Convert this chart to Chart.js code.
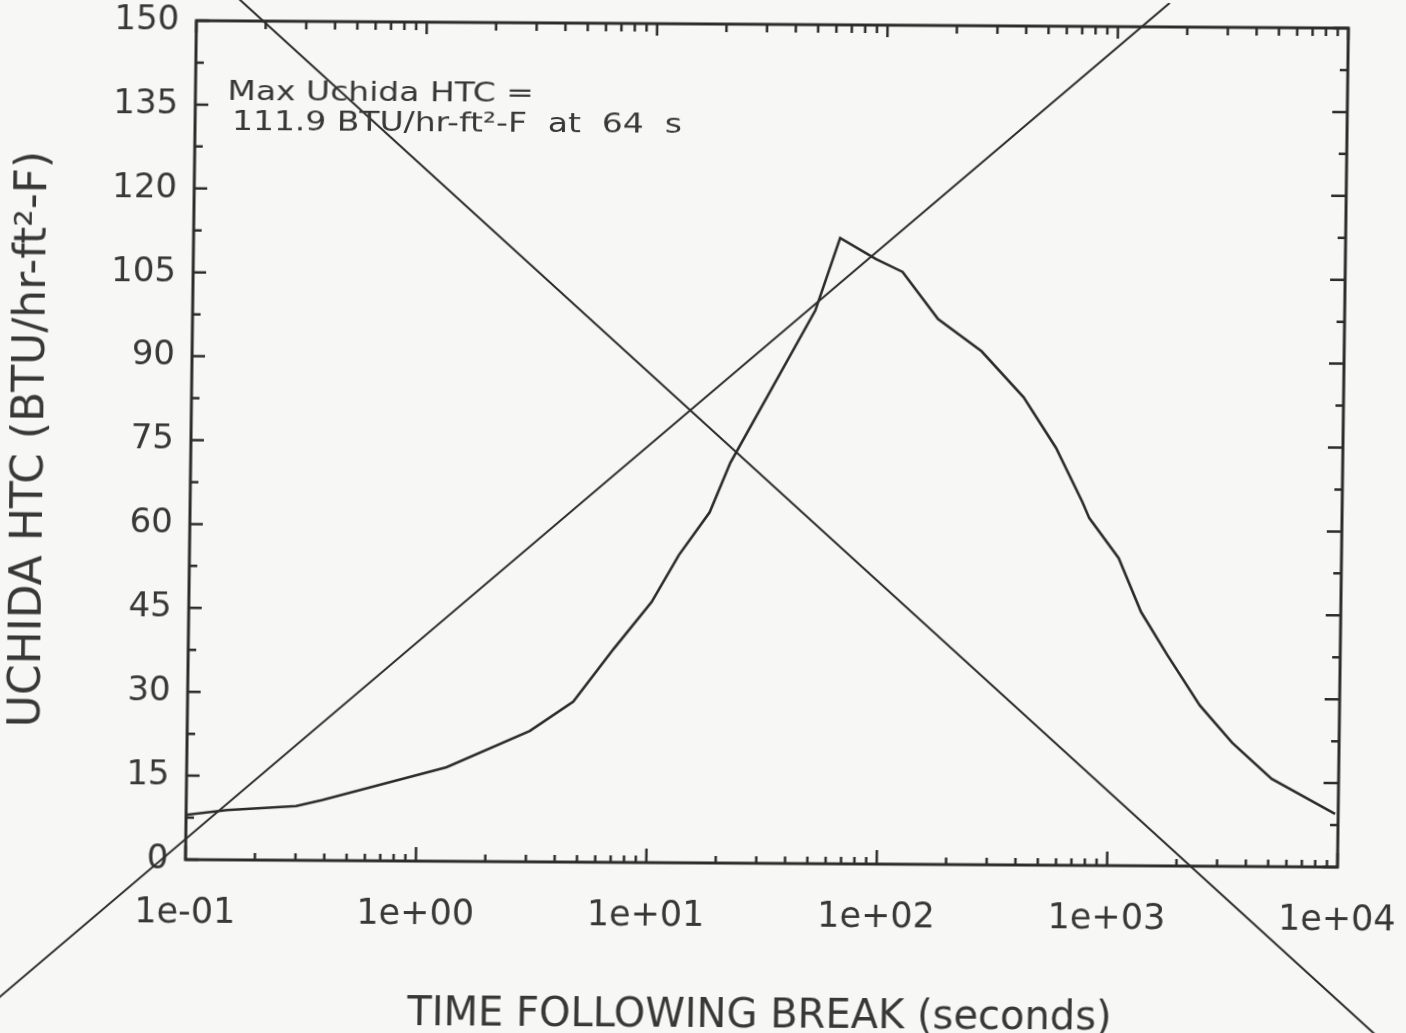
<!DOCTYPE html>
<html lang="en">
<head>
<meta charset="UTF-8" />
<title>Uchida HTC</title>
<script src="https://cdn.jsdelivr.net/npm/chart.js@4.4.0/dist/chart.umd.min.js"></script>
<style>
  html, body { margin: 0; padding: 0; background: #f7f7f5; overflow: hidden; }
  /* the scanned sheet sits a little skewed */
  canvas { display: block; transform: matrix(1, 0.0065, -0.013, 1, 0, 0); }
</style>
</head>
<body>
<canvas id="htc" width="1406" height="1033"></canvas>
<script>
// curve: time after break (s) vs Uchida HTC
const timeSec = [0.1, 0.15, 0.3, 0.39, 0.69, 1.34, 3.07, 4.72, 7.03, 10.2, 13.3, 18.0, 22.0, 50.4, 64,
                 91.6, 120, 172, 267, 409, 569, 745, 800, 1079, 1358, 1778, 2473, 3437, 5119, 9700];
const htc = [8.0, 8.9, 9.7, 10.8, 13.6, 16.8, 23.4, 28.7, 38.2, 46.6, 55.0, 62.7, 71.6, 98.9, 111.9,
             108.2, 105.9, 97.5, 91.8, 83.6, 74.6, 65.0, 62.1, 55.0, 45.4, 37.7, 28.75, 22.1, 15.7, 9.5];

// the two crossing strokes over the sheet (ends in data units)
const crossAX = [0.1492, 15370];
const crossAY = [154.3, -30.4];
const crossBX = [0.01497, 1672];
const crossBY = [-25.7, 154.3];

const xTickValues = [0.1, 1, 10, 100, 1000, 10000];
const xTickLabels = ['1e-01', '1e+00', '1e+01', '1e+02', '1e+03', '1e+04'];
const yMin = 0, yMax = 150, yStep = 15;

const noteLines = ['Max Uchida HTC =', '111.9 BTU/hr-ft\u00b2-F  at  64  s'];
const xTitle = 'TIME FOLLOWING BREAK (seconds)';
const yTitle = 'UCHIDA HTC (BTU/hr-ft\u00b2-F)';

const ink = '#2c2c2c';
const textInk = '#383838';
const face = 'DejaVu Sans';

function pts(xs, ys) { return xs.map((v, i) => ({ x: v, y: ys[i] })); }

// frame with inward ticks, plus the note in the upper left
const frameTicks = {
  id: 'frameTicks',
  afterDatasetsDraw(chart) {
    const { ctx, chartArea: a, scales: { x, y } } = chart;
    ctx.save();
    ctx.strokeStyle = ink;
    ctx.lineWidth = 3;
    ctx.strokeRect(a.left, a.top, a.right - a.left, a.bottom - a.top);

    ctx.lineWidth = 2.5;
    ctx.beginPath();
    xTickValues.forEach((d, i) => {
      for (let k = 1; k <= 9; k++) {
        if (k > 1 && i === xTickValues.length - 1) break;
        const px = x.getPixelForValue(d * k);
        const major = k === 1;
        ctx.moveTo(px, a.bottom); ctx.lineTo(px, a.bottom - (major ? 14 : 7));
        ctx.moveTo(px, a.top); ctx.lineTo(px, a.top + (major ? 12 : 8));
      }
    });
    for (let v = yMin; v <= yMax; v += yStep / 2) {
      const py = y.getPixelForValue(v);
      const major = v % yStep === 0;
      ctx.moveTo(a.left, py); ctx.lineTo(a.left + (major ? 13 : 8), py);
      ctx.moveTo(a.right, py); ctx.lineTo(a.right - (major ? 15 : 8), py);
    }
    ctx.stroke();

    ctx.fillStyle = textInk;
    ctx.font = '27px "' + face + '"';
    ctx.textBaseline = 'alphabetic';
    noteLines.forEach((t, i) => {
      ctx.save();
      ctx.translate(a.left + 32 + i * 5, a.top + 79 + i * 30);
      ctx.scale(1.22, 1);
      ctx.fillText(t, 0, 0);
      ctx.restore();
    });
    ctx.restore();
  }
};

new Chart(document.getElementById('htc'), {
  type: 'line',
  data: {
    datasets: [
      { label: 'Uchida HTC', data: pts(timeSec, htc), borderColor: ink, borderWidth: 2.6,
        pointRadius: 0, tension: 0 },
      { label: 'cross A', data: pts(crossAX, crossAY), borderColor: ink, borderWidth: 2,
        pointRadius: 0, clip: false },
      { label: 'cross B', data: pts(crossBX, crossBY), borderColor: ink, borderWidth: 2,
        pointRadius: 0, clip: false }
    ]
  },
  options: {
    responsive: false,
    animation: false,
    devicePixelRatio: 1,
    layout: { padding: { left: 0, top: 24, right: 64, bottom: 0 } },
    plugins: { legend: { display: false }, tooltip: { enabled: false } },
    scales: {
      x: {
        type: 'logarithmic',
        min: 0.1,
        max: 10000,
        afterBuildTicks: s => { s.ticks = xTickValues.map(v => ({ value: v })); },
        afterFit: s => { s.height = 170; s.paddingLeft = 0; s.paddingRight = 0; },
        grid: { display: false, drawTicks: false },
        border: { display: false },
        ticks: {
          callback: (v, i) => xTickLabels[i],
          autoSkip: false, maxRotation: 0, padding: 33,
          color: textInk, font: { family: face, size: 35 }
        },
        title: {
          display: true, text: xTitle, color: textInk,
          font: { family: face, size: 40, lineHeight: 0.8 }, padding: { top: 0, bottom: 0 }
        }
      },
      y: {
        min: yMin,
        max: yMax,
        afterFit: s => { s.width = 190; s.paddingTop = 0; s.paddingBottom = 0; },
        grid: { display: false, drawTicks: false },
        border: { display: false },
        ticks: {
          stepSize: yStep, padding: 17,
          color: textInk, font: { family: face, size: 34 }
        },
        title: {
          display: true, text: yTitle, color: textInk,
          font: { family: face, size: 44 }, padding: { top: 4, bottom: 0 }
        }
      }
    }
  },
  plugins: [frameTicks]
});
</script>
</body>
</html>
